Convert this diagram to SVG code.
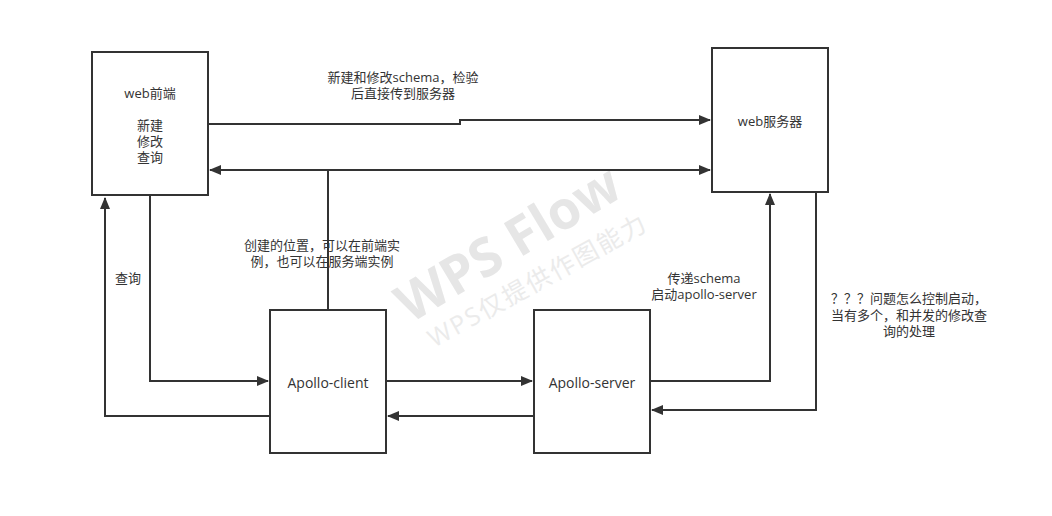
<svg xmlns="http://www.w3.org/2000/svg" width="1052" height="516" viewBox="0 0 1052 516">
<defs>
<style>
.box{fill:#fff;stroke:#333;stroke-width:2}
.ln{fill:none;stroke:#333;stroke-width:2}
.t{font-family:"Open Sans","Noto Sans CJK SC",sans-serif;font-size:13px;fill:#333;text-anchor:middle;dominant-baseline:central}
.big{font-size:14px}
.wm1{font-family:"Open Sans","Noto Sans CJK SC",sans-serif;font-size:53px;font-weight:bold;fill:#e6e6e6}
.wm2{font-family:"Open Sans","Noto Sans CJK SC",sans-serif;font-size:25px;fill:#ebebeb;letter-spacing:2px}
</style>
<marker id="ah" markerUnits="userSpaceOnUse" markerWidth="12" markerHeight="10" refX="11" refY="5" orient="auto">
<path d="M0,0 L12,5 L0,10 z" fill="#333"/>
</marker>
</defs>
<rect width="1052" height="516" fill="#fff"/>
<g id="watermark">
<text class="wm1" transform="translate(410,324) rotate(-31)">WPS Flow</text>
<text class="wm2" transform="translate(434,348) rotate(-29)">WPS仅提供作图能力</text>
</g>
<g id="connectors">
<polyline class="ln" points="208,124 460,124 460,120 710,120" marker-end="url(#ah)"/>
<polyline class="ln" points="328,310 328,170 210,170" marker-end="url(#ah)"/>
<polyline class="ln" points="328,170 710,170" marker-end="url(#ah)"/>
<polyline class="ln" points="150,196 150,381 268,381" marker-end="url(#ah)"/>
<polyline class="ln" points="270,416 105,416 105,198" marker-end="url(#ah)"/>
<polyline class="ln" points="386,381 532,381" marker-end="url(#ah)"/>
<polyline class="ln" points="534,416 388,416" marker-end="url(#ah)"/>
<polyline class="ln" points="650,381 770,381 770,194" marker-end="url(#ah)"/>
<polyline class="ln" points="816,192 816,410 652,410" marker-end="url(#ah)"/>
<text class="t" x="403" y="77">新建和修改schema，检验</text>
<text class="t" x="403" y="93">后直接传到服务器</text>
<text class="t" x="322" y="245">创建的位置，可以在前端实</text>
<text class="t" x="322" y="261">例，也可以在服务端实例</text>
<text class="t" x="128" y="278">查询</text>
<text class="t" x="704" y="278">传递schema</text>
<text class="t" x="704" y="294">启动apollo-server</text>
<text class="t" x="909" y="298">？？？问题怎么控制启动，</text>
<text class="t" x="909" y="315">当有多个，和并发的修改查</text>
<text class="t" x="909" y="331">询的处理</text>
</g>
<g id="web-frontend">
<rect class="box" x="92" y="52" width="116" height="143"/>
<text class="t" x="150" y="93">web前端</text>
<text class="t" x="150" y="125">新建</text>
<text class="t" x="150" y="141">修改</text>
<text class="t" x="150" y="157">查询</text>
</g>
<g id="web-server">
<rect class="box" x="712" y="48" width="116" height="144"/>
<text class="t" x="770" y="121">web服务器</text>
</g>
<g id="apollo-client">
<rect class="box" x="270" y="310" width="116" height="143"/>
<text class="t big" x="328" y="382">Apollo-client</text>
</g>
<g id="apollo-server">
<rect class="box" x="534" y="310" width="116" height="143"/>
<text class="t big" x="592" y="382">Apollo-server</text>
</g>
</svg>
